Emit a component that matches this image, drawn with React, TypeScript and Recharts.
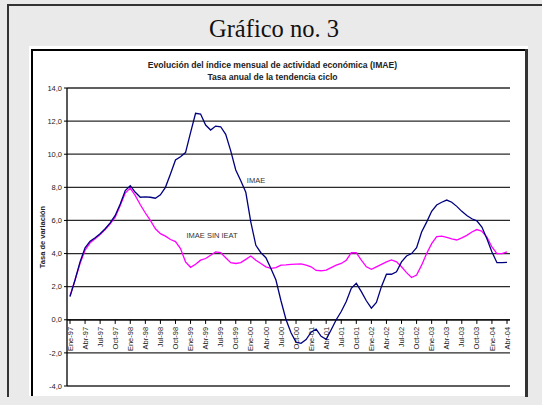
import React from "react";
import {
  CartesianGrid,
  Line,
  LineChart,
  ReferenceDot,
  ReferenceLine,
  XAxis,
  YAxis,
} from "recharts";

const MONTHS = ["Ene", "Feb", "Mar", "Abr", "May", "Jun", "Jul", "Ago", "Sep", "Oct", "Nov", "Dic"];
const YEARS = ["97", "98", "99", "00", "01", "02", "03", "04"];
const PERIODS = YEARS.flatMap((y) => MONTHS.map((m) => `${m}-${y}`)).slice(0, 88);

const IMAE = [
  1.4, 2.4, 3.5, 4.35, 4.75, 4.95, 5.2, 5.5, 5.85, 6.3, 7.0, 7.8,
  8.1, 7.7, 7.4, 7.42, 7.4, 7.34, 7.55, 8.0, 8.8, 9.65, 9.85, 10.1,
  11.3, 12.47, 12.43, 11.76, 11.46, 11.7, 11.66, 11.2, 10.2, 9.05, 8.4, 7.7,
  5.9, 4.5, 4.05, 3.75, 3.1, 2.4, 1.15, 0.02, -0.78, -1.35, -1.42, -1.2,
  -0.75, -0.57, -1.0, -1.18, -0.6, 0.0, 0.5, 1.1, 1.9, 2.2, 1.7, 1.15,
  0.7, 1.05, 2.0, 2.75, 2.75, 2.9, 3.5, 3.85, 4.0, 4.35, 5.3, 5.9,
  6.55, 6.93, 7.1, 7.23, 7.1, 6.85, 6.55, 6.3, 6.1, 5.98, 5.6, 4.9,
  4.1, 3.45, 3.45, 3.47,
];

const IMAE_SIN_IEAT = [
  1.44, 2.4, 3.4, 4.2, 4.65, 4.9, 5.15, 5.45, 5.8, 6.2, 6.9, 7.65,
  7.95, 7.5, 6.95, 6.45, 6.0, 5.5, 5.2, 5.05, 4.85, 4.72, 4.3, 3.5,
  3.17, 3.35, 3.6, 3.7, 3.9, 4.1, 4.05, 3.75, 3.45, 3.4, 3.45, 3.65,
  3.85, 3.6, 3.4, 3.2, 3.1, 3.15, 3.3, 3.32, 3.35, 3.36, 3.37, 3.3,
  3.2, 2.98, 2.96, 3.0, 3.15, 3.3, 3.4, 3.6, 4.05, 4.05, 3.6, 3.2,
  3.05, 3.2, 3.35, 3.5, 3.61, 3.5, 3.2, 2.85, 2.55, 2.7, 3.3, 4.0,
  4.6, 5.02, 5.05, 4.98, 4.88, 4.82, 4.95, 5.1, 5.3, 5.45, 5.35, 5.0,
  4.4, 4.0, 4.0, 4.1,
];

const LABELED_PERIODS = PERIODS.filter((_, i) => i % 3 === 0);
const Y_TICKS = [-4, -2, 0, 2, 4, 6, 8, 10, 12, 14];

const data = PERIODS.map((period, i) => ({
  period,
  imae: IMAE[i],
  sinIeat: IMAE_SIN_IEAT[i],
}));

const SANS = "'Liberation Sans', Arial, sans-serif";
const TEXT = "#222";

function formatRate(v: number): string {
  return v.toFixed(1).replace(".", ",");
}

function periodLabel(props: any, text: string) {
  const vb = props.viewBox;
  const x = vb.x;
  const y = vb.y + vb.height + 3;
  return (
    <text
      x={x}
      y={y}
      dy="0.35em"
      transform={`rotate(-90, ${x}, ${y})`}
      textAnchor="end"
      fontSize={7.5}
      fontFamily={SANS}
      fill={TEXT}
    >
      {text}
    </text>
  );
}

function seriesLabel(props: any, text: string) {
  const vb = props.viewBox;
  return (
    <text x={vb.x + 1} y={vb.y + (vb.height || 0) / 2} dy="0.35em" fontSize={7.5} fontFamily={SANS} fill="#333">
      {text}
    </text>
  );
}

function axisTitle(props: any) {
  const vb = props.viewBox;
  const x = vb.x + 12;
  const y = vb.y + vb.height / 2;
  return (
    <text
      x={x}
      y={y}
      dy="0.35em"
      transform={`rotate(-90, ${x}, ${y})`}
      textAnchor="middle"
      fontSize={7.5}
      fontWeight="bold"
      fontFamily={SANS}
      fill={TEXT}
    >
      Tasa de variación
    </text>
  );
}

export default function App() {
  return (
    <div style={{ position: "absolute", left: 0, top: 0, width: 542, height: 405, background: "#eaeaea", overflow: "hidden" }}>
      <div style={{ position: "absolute", left: 7, top: 4, width: 535, height: 2, background: "#333" }} />
      <div style={{ position: "absolute", left: 7, top: 4, width: 2, height: 393, background: "#333" }} />
      <div
        style={{
          position: "absolute",
          left: 0,
          top: 17,
          width: 548,
          textAlign: "center",
          fontFamily: "'Liberation Serif', 'Times New Roman', serif",
          fontSize: 24.5,
          lineHeight: "24px",
          color: "#111",
        }}
      >
        Gráfico no. 3
      </div>
      <div style={{ position: "absolute", left: 29, top: 46, width: 499, height: 350, background: "#fff" }} />
      <div style={{ position: "absolute", left: 31, top: 49, width: 1.5, height: 347, background: "#000" }} />
      <div style={{ position: "absolute", left: 31, top: 49, width: 496, height: 1.5, background: "#000" }} />
      <div style={{ position: "absolute", left: 525, top: 49, width: 2.5, height: 348, background: "#333" }} />
      <div
        style={{
          position: "absolute",
          left: 23,
          top: 60,
          width: 499,
          textAlign: "center",
          fontFamily: SANS,
          fontWeight: "bold",
          fontSize: 8.6,
          lineHeight: "11.5px",
          color: TEXT,
        }}
      >
        Evolución del índice mensual de actividad económica (IMAE)
        <br />
        Tasa anual de la tendencia ciclo
      </div>
      <div style={{ position: "absolute", left: 0, top: 0 }}>
        <LineChart width={542} height={405} data={data} margin={{ top: 88, right: 32, bottom: 19, left: 30 }}>
          <CartesianGrid vertical={false} stroke="#2a2a2a" strokeWidth={1.3} />
          <XAxis dataKey="period" type="category" hide padding={{ left: 3, right: 3 }} />
          <YAxis
            domain={[-4, 14]}
            ticks={Y_TICKS}
            width={37}
            interval={0}
            tickFormatter={formatRate}
            tickSize={3}
            tick={{ fontSize: 7.5, fontFamily: SANS, fill: TEXT }}
            tickLine={{ stroke: "#000" }}
            axisLine={{ stroke: "#000", strokeWidth: 1.3 }}
            label={axisTitle}
          />
          <YAxis
            yAxisId="right"
            orientation="right"
            domain={[-4, 14]}
            width={0}
            tick={false}
            tickLine={false}
            axisLine={{ stroke: "#999", strokeWidth: 1.5 }}
          />
          <ReferenceLine y={0} stroke="#000" strokeWidth={1.3} />
          {LABELED_PERIODS.map((p) => (
            <ReferenceLine
              key={p}
              segment={[
                { x: p, y: 0 },
                { x: p, y: -0.25 },
              ]}
              stroke="#000"
              strokeWidth={1}
              label={(props: any) => periodLabel(props, p)}
            />
          ))}
          <ReferenceDot
            x="Dic-99"
            y={8.45}
            r={0}
            fill="none"
            stroke="none"
            label={(props: any) => seriesLabel(props, "IMAE")}
          />
          <ReferenceDot
            x="Dic-98"
            y={5.1}
            r={0}
            fill="none"
            stroke="none"
            label={(props: any) => seriesLabel(props, "IMAE SIN IEAT")}
          />
          <Line
            dataKey="sinIeat"
            stroke="#ff00ff"
            strokeWidth={1.3}
            dot={false}
            type="linear"
            isAnimationActive={false}
          />
          <Line
            dataKey="imae"
            stroke="#00007f"
            strokeWidth={1.3}
            dot={false}
            type="linear"
            isAnimationActive={false}
          />
        </LineChart>
      </div>
    </div>
  );
}
